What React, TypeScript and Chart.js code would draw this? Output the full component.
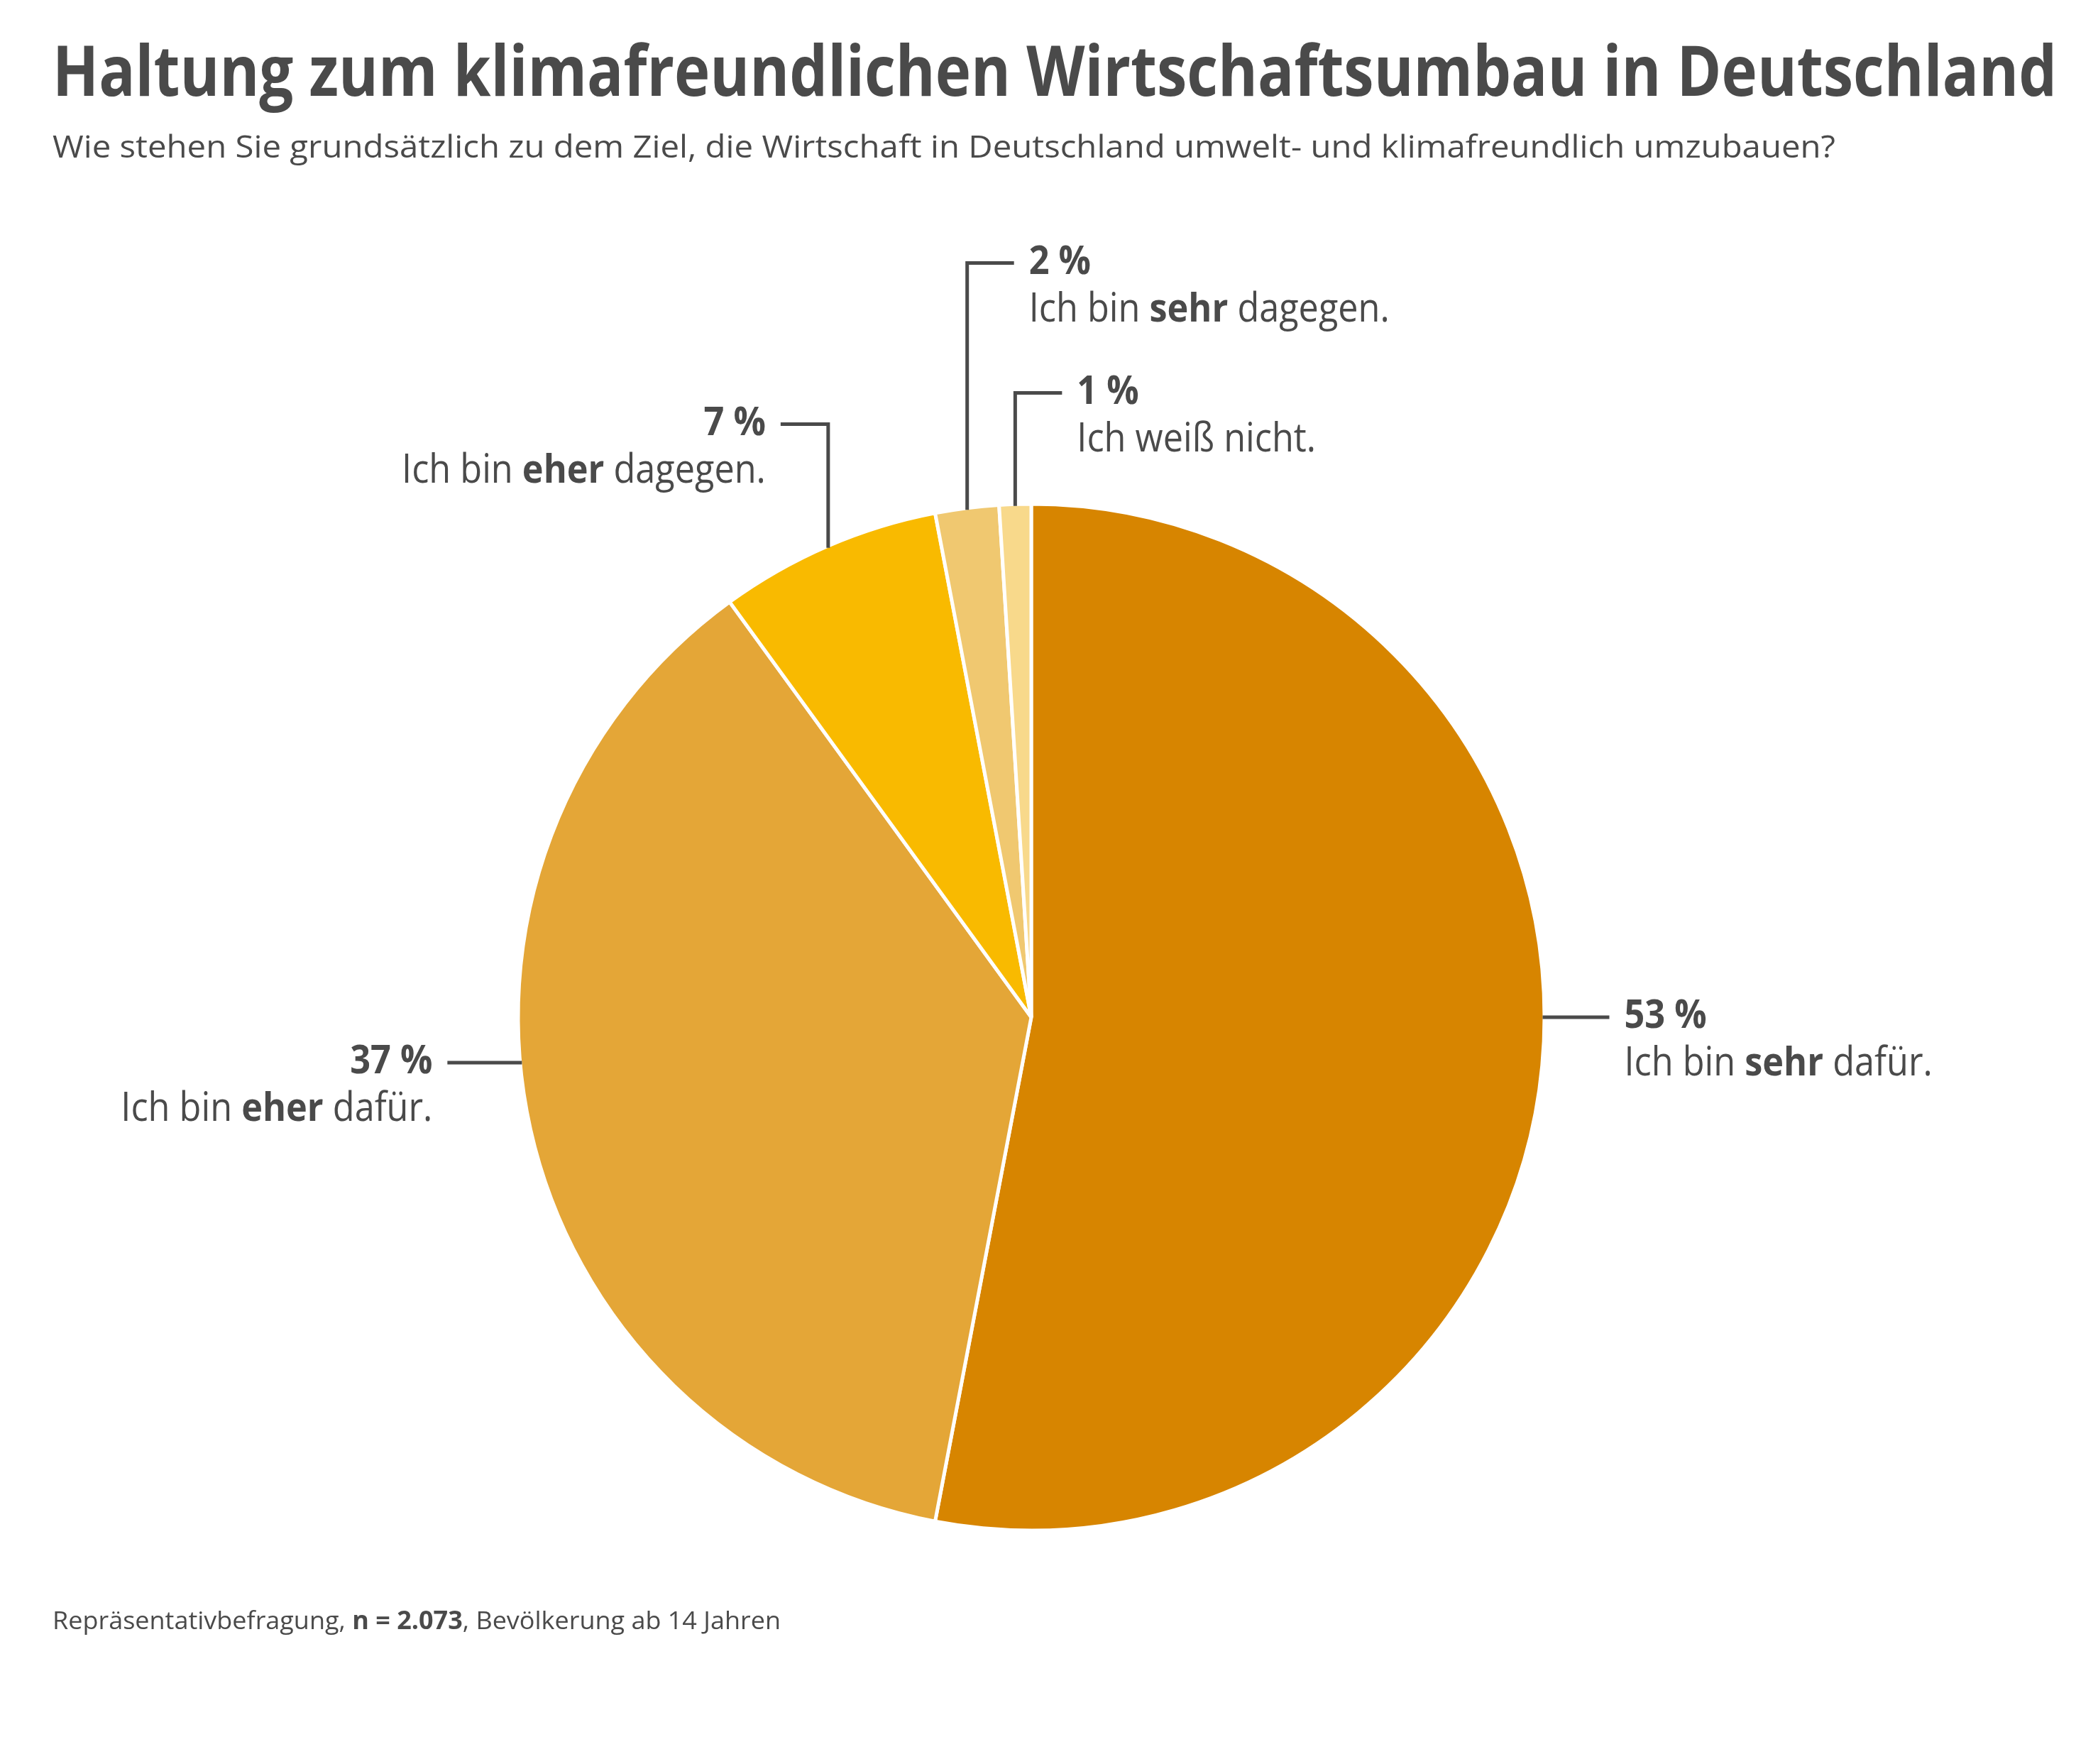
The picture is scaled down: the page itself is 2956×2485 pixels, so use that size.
import { useEffect, useRef } from "react"
import { Chart, PieController, ArcElement } from "chart.js"

Chart.register(PieController, ArcElement)

// --- data -------------------------------------------------------------
const categories = [
  "Ich bin sehr dafür.",
  "Ich bin eher dafür.",
  "Ich bin eher dagegen.",
  "Ich bin sehr dagegen.",
  "Ich weiß nicht.",
]
const emphasis = ["sehr", "eher", "eher", "sehr", ""]
const shares = [53, 37, 7, 2, 1]
const sliceColors = ["#d78500", "#e4a637", "#f9ba00", "#f0c870", "#f8d98b"]

const TITLE = "Haltung zum klimafreundlichen Wirtschaftsumbau in Deutschland"
const SUBTITLE =
  "Wie stehen Sie grundsätzlich zu dem Ziel, die Wirtschaft in Deutschland umwelt- und klimafreundlich umzubauen?"
const footerParts: [string, boolean][] = [
  ["Repräsentativbefragung, ", false],
  ["n = 2.073", true],
  [", Bevölkerung ab 14 Jahren", false],
]

// --- look -------------------------------------------------------------
const INK = "#4a4a4a"
const FONT = "'Open Sans', 'Noto Sans', sans-serif"
const LABEL_SIZE = 56
const LABEL_SQUEEZE = 0.9

// leader line shape per slice (h = horizontal stub, v = up then sideways)
const callouts = [
  { kind: "h", side: 1, dy: 0, len: 94 },
  { kind: "h", side: -1, dy: 64, len: 105 },
  { kind: "v", side: -1, rise: 115, len: 67 },
  { kind: "v", side: 1, rise: 342, len: 66 },
  { kind: "v", side: 1, rise: 159, len: 66 },
]

type Seg = { text: string; bold: boolean }

function drawRich(
  ctx: CanvasRenderingContext2D,
  segs: Seg[],
  x: number,
  y: number,
  size: number,
  align: "left" | "right",
  squeeze = 1,
  fitWidth?: number
) {
  const fonts = segs.map((s) => `${s.bold ? 700 : 400} ${size}px ${FONT}`)
  const widths = segs.map((s, i) => {
    ctx.font = fonts[i]
    return ctx.measureText(s.text).width
  })
  const natural = widths.reduce((a, b) => a + b, 0)
  const sx = fitWidth ? fitWidth / natural : squeeze
  const total = natural * sx
  ctx.save()
  ctx.textAlign = "left"
  ctx.textBaseline = "alphabetic"
  ctx.fillStyle = INK
  ctx.translate(align === "right" ? x - total : x, y)
  ctx.scale(sx, 1)
  let cx = 0
  segs.forEach((s, i) => {
    ctx.font = fonts[i]
    ctx.fillText(s.text, cx, 0)
    cx += widths[i]
  })
  ctx.restore()
}

function labelSegs(i: number): Seg[] {
  const cat = categories[i]
  const em = emphasis[i]
  if (!em) return [{ text: cat, bold: false }]
  const k = cat.indexOf(em)
  return [
    { text: cat.slice(0, k), bold: false },
    { text: em, bold: true },
    { text: cat.slice(k + em.length), bold: false },
  ]
}

const annotations = {
  id: "annotations",
  afterDraw(chart: Chart) {
    const ctx = chart.ctx
    ctx.save()

    drawRich(ctx, [{ text: TITLE, bold: true }], 74, 135, 98, "left", 1, 2824)
    drawRich(ctx, [{ text: SUBTITLE, bold: false }], 74, 222, 43, "left", 1, 2512)
    drawRich(
      ctx,
      footerParts.map(([text, bold]) => ({ text, bold })),
      74,
      2295,
      35,
      "left",
      1,
      1026
    )

    const meta = chart.getDatasetMeta(0)
    const bw = 5
    meta.data.forEach((el, i) => {
      const c = callouts[i]
      if (!c) return
      const p = (el as any).getProps(["x", "y", "startAngle", "endAngle", "outerRadius"], true)
      const R = p.outerRadius - bw / 2
      ctx.strokeStyle = INK
      ctx.lineWidth = 5
      ctx.lineCap = "butt"
      ctx.lineJoin = "miter"
      ctx.beginPath()
      let tx: number
      let ty: number
      if (c.kind === "h") {
        const y0 = p.y + (c.dy as number)
        const x0 = p.x + c.side * Math.sqrt(R * R - (c.dy as number) ** 2)
        const x1 = x0 + c.side * c.len
        ctx.moveTo(x0, y0)
        ctx.lineTo(x1, y0)
        tx = x1 + c.side * 21
        ty = y0
      } else {
        const mid = (p.startAngle + p.endAngle) / 2
        const x0 = p.x + R * Math.cos(mid)
        const y0 = p.y + R * Math.sin(mid)
        const yTop = p.y - R - (c.rise as number)
        ctx.moveTo(x0, y0)
        ctx.lineTo(x0, yTop)
        ctx.lineTo(x0 + c.side * c.len, yTop)
        tx = x0 + c.side * (c.len + 21)
        ty = yTop
      }
      ctx.stroke()
      const align = c.side > 0 ? "left" : "right"
      drawRich(ctx, [{ text: `${shares[i]} %`, bold: true }], tx, ty + 15, LABEL_SIZE, align, LABEL_SQUEEZE)
      drawRich(ctx, labelSegs(i), tx, ty + 82, LABEL_SIZE, align, LABEL_SQUEEZE)
    })

    ctx.restore()
  },
}

function PieChart() {
  const canvasRef = useRef<HTMLCanvasElement>(null)
  const chartInstance = useRef<Chart | null>(null)

  useEffect(() => {
    if (!canvasRef.current) return
    if (chartInstance.current) chartInstance.current.destroy()

    const ctx = canvasRef.current.getContext("2d")
    if (!ctx) return

    chartInstance.current = new Chart(ctx, {
      type: "pie",
      data: {
        labels: categories,
        datasets: [
          {
            data: shares,
            backgroundColor: sliceColors,
            borderColor: "#ffffff",
            borderWidth: 5,
          },
        ],
      },
      options: {
        animation: false,
        responsive: true,
        maintainAspectRatio: false,
        devicePixelRatio: 1,
        radius: 723,
        layout: {
          padding: { left: 730, right: 780, top: 710, bottom: 329 },
        },
        plugins: {
          legend: { display: false },
          tooltip: { enabled: false },
        },
      } as any,
      plugins: [annotations as any],
    })

    return () => {
      if (chartInstance.current) {
        chartInstance.current.destroy()
        chartInstance.current = null
      }
    }
  }, [])

  return <canvas ref={canvasRef} />
}

export default function App() {
  useEffect(() => {
    document.body.style.margin = "0"
  }, [])
  return (
    <div style={{ position: "absolute", left: 0, top: 0, width: 2956, height: 2485, background: "#fff" }}>
      <PieChart />
    </div>
  )
}
